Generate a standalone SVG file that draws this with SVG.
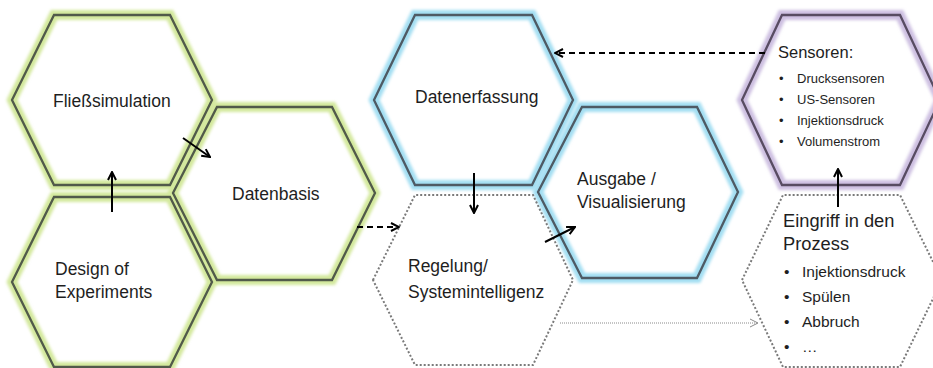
<svg xmlns="http://www.w3.org/2000/svg" width="933" height="368" viewBox="0 0 933 368">
  <defs>
    <filter id="soft" x="-10%" y="-10%" width="120%" height="120%">
      <feGaussianBlur stdDeviation="1.8"/>
    </filter>
    <marker id="head" viewBox="0 0 10 10" refX="9" refY="5" markerWidth="10" markerHeight="10" markerUnits="userSpaceOnUse" orient="auto">
      <path d="M1,1 L9,5 L1,9" fill="none" stroke="#000" stroke-width="2"/>
    </marker>
    <marker id="thinhead" viewBox="0 0 10 10" refX="9" refY="5" markerWidth="10" markerHeight="10" markerUnits="userSpaceOnUse" orient="auto">
      <path d="M1,1 L9,5 L1,9" fill="none" stroke="#8a8a8a" stroke-width="1"/>
    </marker>
  </defs>
  <style>
    .glow { fill: none; stroke-width: 10; stroke-linejoin: miter; filter: url(#soft); }
    .g-green { stroke: #d3e89c; }
    .g-blue { stroke: #a3def2; }
    .g-purple { stroke: #cdbfe1; }
    .edge { fill: none; stroke-width: 2.3; stroke-linejoin: miter; }
    .e-green { stroke: #515a4a; }
    .e-blue { stroke: #4e5a64; }
    .e-purple { stroke: #584c62; }
    .dotted { fill: none; stroke: #7a7a7a; stroke-width: 2; stroke-dasharray: 2 2; }
    .lbl { font-family: "Liberation Sans", Arial, sans-serif; font-size: 17.5px; fill: #1e1e1e; }
    .small { font-family: "Liberation Sans", Arial, sans-serif; font-size: 13px; fill: #1e1e1e; }
    .mid { font-family: "Liberation Sans", Arial, sans-serif; font-size: 15.5px; fill: #1e1e1e; }
    .arrow { fill: none; stroke: #000; stroke-width: 2; marker-end: url(#head); }
    .dash { stroke-dasharray: 6 4; }
    .thin { fill: none; stroke: #8a8a8a; stroke-width: 1; stroke-dasharray: 1 1; marker-end: url(#thinhead); }
  </style>

  <rect width="933" height="368" fill="#fff"/>

  <!-- glows first so every outline sits on top -->
  <g id="glows">
    <path class="glow g-green" d="M12,100 L54,15 L170,15 L212,100 L170,185 L54,185 Z"/>
    <path class="glow g-green" d="M12,282 L54,197 L170,197 L212,282 L170,367 L54,367 Z"/>
    <path class="glow g-green" d="M173,193 L217,107 L332,107 L375,193 L332,280 L217,280 Z"/>
    <path class="glow g-blue" d="M374,100 L415,15 L532,15 L573,100 L532,185 L415,185 Z"/>
    <path class="glow g-blue" d="M538,192 L582,107 L697,107 L738,192 L697,278 L582,278 Z"/>
    <path class="glow g-purple" d="M742,100 L782,15 L900,15 L940,100 L900,185 L782,185 Z"/>
  </g>

  <g id="fliesssimulation">
    <path class="edge e-green" d="M12,100 L54,15 L170,15 L212,100 L170,185 L54,185 Z"/>
    <text class="lbl" x="53" y="107">Fließsimulation</text>
  </g>

  <g id="design-of-experiments">
    <path class="edge e-green" d="M12,282 L54,197 L170,197 L212,282 L170,367 L54,367 Z"/>
    <text class="lbl" x="55" y="275">Design of</text>
    <text class="lbl" x="55" y="298">Experiments</text>
  </g>

  <g id="datenbasis">
    <path class="edge e-green" d="M173,193 L217,107 L332,107 L375,193 L332,280 L217,280 Z"/>
    <text class="lbl" x="232" y="200">Datenbasis</text>
  </g>

  <g id="datenerfassung">
    <path class="edge e-blue" d="M374,100 L415,15 L532,15 L573,100 L532,185 L415,185 Z"/>
    <text class="lbl" x="415" y="103">Datenerfassung</text>
  </g>

  <g id="ausgabe">
    <path class="edge e-blue" d="M538,192 L582,107 L697,107 L738,192 L697,278 L582,278 Z"/>
    <text class="lbl" x="577" y="185">Ausgabe /</text>
    <text class="lbl" x="577" y="208">Visualisierung</text>
  </g>

  <g id="regelung">
    <path class="dotted" d="M373,280 L415,195 L533,195 L573,280 L533,365 L415,365 Z"/>
    <text class="lbl" x="408" y="272">Regelung/</text>
    <text class="lbl" x="408" y="298">Systemintelligenz</text>
  </g>

  <g id="sensoren">
    <path class="edge e-purple" d="M742,100 L782,15 L900,15 L940,100 L900,185 L782,185 Z"/>
    <text class="mid" x="778" y="58" style="font-size:16.5px">Sensoren:</text>
    <text class="small" x="779" y="83">•</text>
    <text class="small" x="797" y="83">Drucksensoren</text>
    <text class="small" x="779" y="104">•</text>
    <text class="small" x="797" y="104">US-Sensoren</text>
    <text class="small" x="779" y="125">•</text>
    <text class="small" x="797" y="125">Injektionsdruck</text>
    <text class="small" x="779" y="146">•</text>
    <text class="small" x="797" y="146">Volumenstrom</text>
  </g>

  <g id="eingriff">
    <path class="dotted" d="M742,280 L783,195 L900,195 L942,280 L900,367 L783,367 Z"/>
    <text class="lbl" x="783" y="227" style="font-size:18.3px">Eingriff in den</text>
    <text class="lbl" x="783" y="250" style="font-size:18.3px">Prozess</text>
    <text class="mid" x="784" y="277">•</text>
    <text class="mid" x="802" y="277">Injektionsdruck</text>
    <text class="mid" x="784" y="302">•</text>
    <text class="mid" x="802" y="302">Spülen</text>
    <text class="mid" x="784" y="327">•</text>
    <text class="mid" x="802" y="327">Abbruch</text>
    <text class="mid" x="784" y="352">•</text>
    <text class="mid" x="802" y="352">…</text>
  </g>

  <g id="connectors">
    <line class="arrow" x1="112" y1="212" x2="112" y2="172"/>
    <line class="arrow" x1="183" y1="138" x2="210" y2="157"/>
    <line class="arrow dash" x1="357" y1="227" x2="399" y2="227"/>
    <line class="arrow" x1="474" y1="173" x2="474" y2="213"/>
    <line class="arrow" x1="545" y1="242" x2="575" y2="227"/>
    <line class="arrow dash" x1="765" y1="53" x2="555" y2="53"/>
    <line class="arrow" x1="838" y1="207" x2="838" y2="169"/>
    <line class="thin" x1="560" y1="323" x2="758" y2="323"/>
  </g>
</svg>
